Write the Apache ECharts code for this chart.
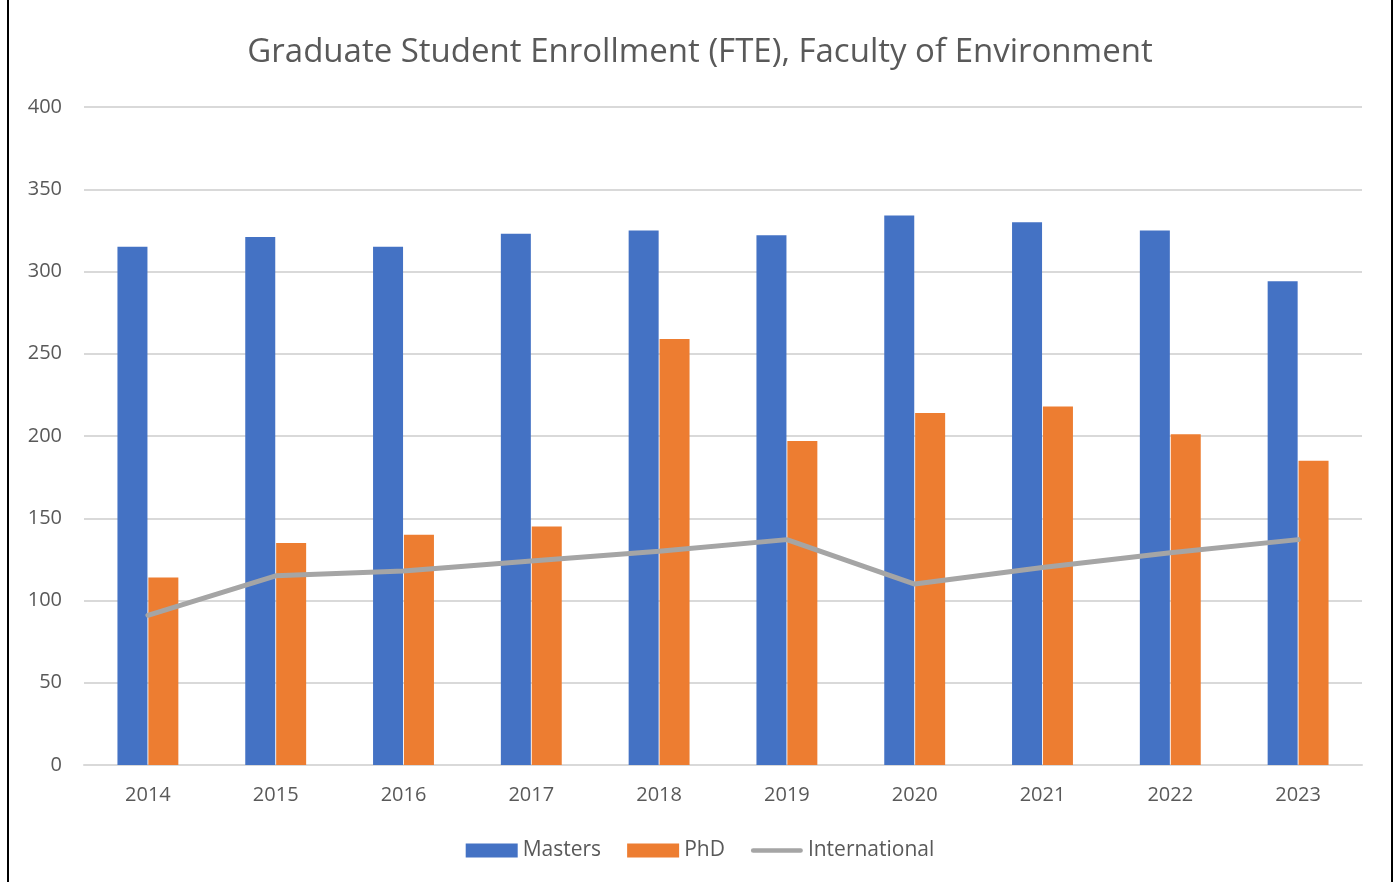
<!DOCTYPE html>
<html>
<head>
<meta charset="utf-8">
<script src="https://cdn.jsdelivr.net/npm/echarts@6/dist/echarts.min.js"></script>
<style>
  html, body { margin: 0; padding: 0; background: #fff; }
  .frame {
    position: absolute; left: 7px; top: 0; width: 1382px; height: 882px;
    border-left: 2px solid #000; border-right: 2px solid #000;
  }
  #chart { width: 1382px; height: 882px; }
</style>
</head>
<body>
<div class="frame"><div id="chart"></div></div>
<script>
const years = ['2014', '2015', '2016', '2017', '2018', '2019', '2020', '2021', '2022', '2023']
const masters = [315, 321, 315, 323, 325, 322, 334, 330, 325, 294]
const phd = [114, 135, 140, 145, 259, 197, 214, 218, 201, 185]
const international = [91, 115, 118, 124, 130, 137, 110, 120, 129, 137]

const textColor = '#595959'
const font = '"Open Sans", "Noto Sans", sans-serif'

const chart = echarts.init(document.getElementById('chart'))
chart.setOption({
  animation: false,
  textStyle: { fontFamily: font },
  title: {
    text: 'Graduate Student Enrollment (FTE), Faculty of Environment',
    left: 'center',
    top: 31,
    textStyle: { fontSize: 33, fontWeight: 'normal', color: textColor, fontFamily: font }
  },
  legend: {
    bottom: 16,
    left: 'center',
    itemWidth: 52,
    itemHeight: 14,
    itemGap: 26,
    textStyle: { fontSize: 21, color: textColor, fontFamily: font },
    data: [
      { name: 'Masters', icon: 'rect' },
      { name: 'PhD', icon: 'rect' },
      { name: 'International', icon: 'path://M2.5,0 L53.5,0 A2.5,2.5 0 0 1 53.5,5 L2.5,5 A2.5,2.5 0 0 1 2.5,0 Z' }
    ]
  },
  grid: { left: 75, right: 29, top: 107, bottom: 117 },
  xAxis: {
    type: 'category',
    data: years,
    axisLine: { lineStyle: { color: '#d9d9d9', width: 2 } },
    axisTick: { show: false },
    axisLabel: { fontSize: 20, color: textColor, margin: 20, fontFamily: font }
  },
  yAxis: {
    type: 'value',
    min: 0,
    max: 400,
    interval: 50,
    axisLine: { show: false },
    axisTick: { show: false },
    axisLabel: { fontSize: 20, color: textColor, margin: 22, fontFamily: font },
    splitLine: { lineStyle: { color: '#d9d9d9', width: 2 } }
  },
  series: [
    {
      name: 'Masters',
      type: 'bar',
      data: masters,
      barWidth: 30,
      barGap: '3%',
      itemStyle: { color: '#4472c4' }
    },
    {
      name: 'PhD',
      type: 'bar',
      data: phd,
      barWidth: 30,
      barGap: '3%',
      itemStyle: { color: '#ed7d31' }
    },
    {
      name: 'International',
      type: 'line',
      data: international,
      symbol: 'none',
      lineStyle: { color: '#a5a5a5', width: 5, cap: 'round' },
      itemStyle: { color: '#a5a5a5' }
    }
  ]
})
</script>
</body>
</html>
